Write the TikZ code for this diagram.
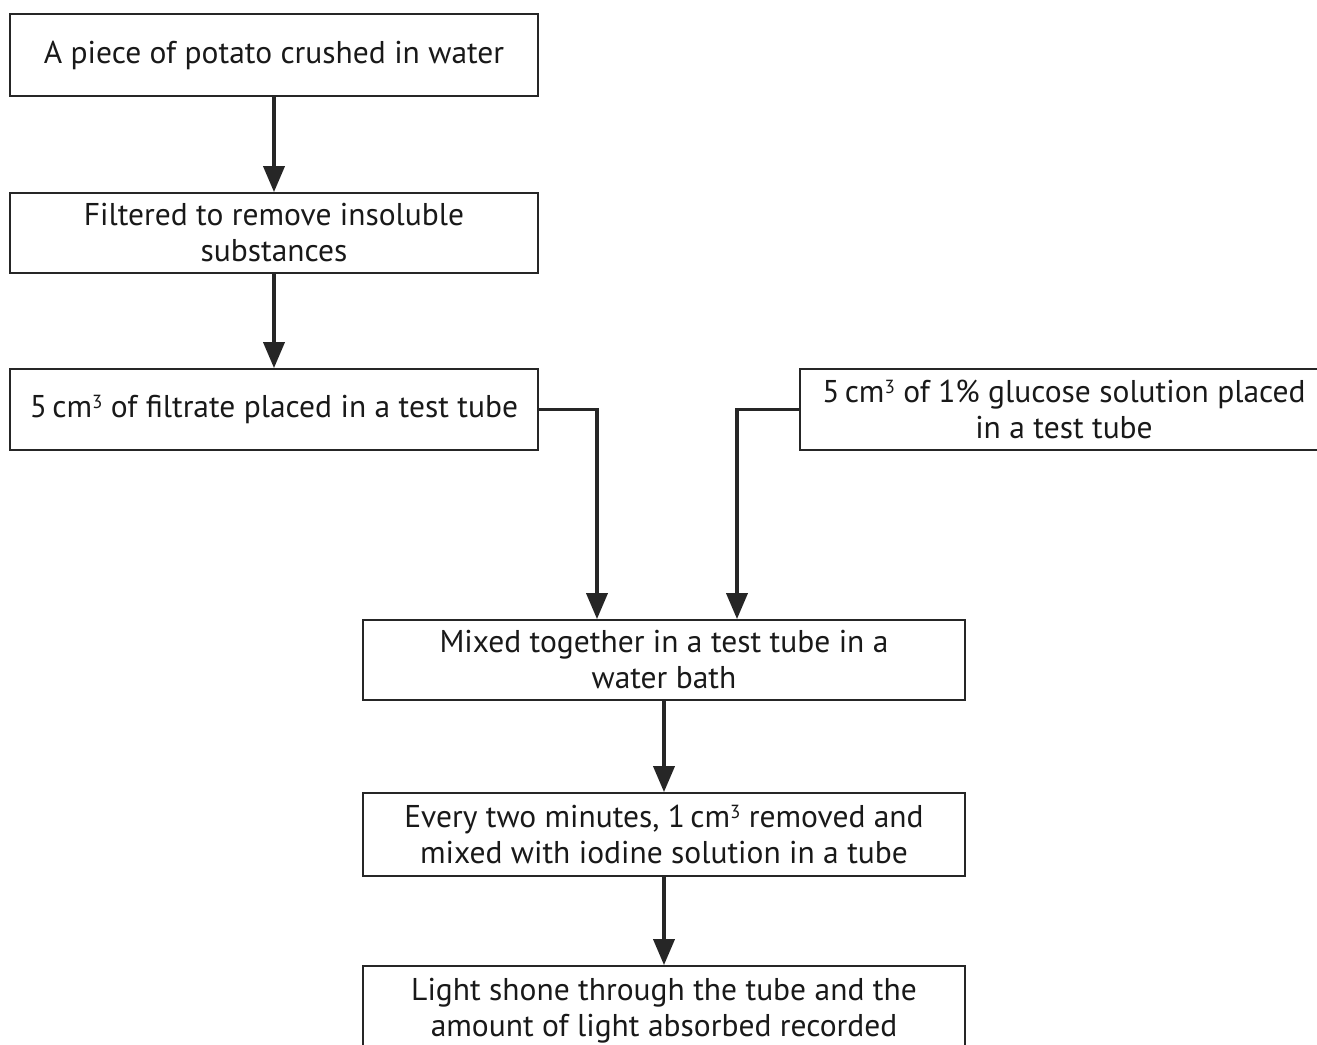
\documentclass[tikz,border=0pt]{standalone}
\usepackage{fontspec}
\setmainfont{PT Sans}
\usetikzlibrary{arrows.meta}
\newcommand{\cubed}{\raisebox{0.3em}{\fontsize{19}{19}\selectfont 3}}
\begin{document}
\begin{tikzpicture}[x=1pt,y=-1pt,
  box/.style={draw=black!85, line width=1.8pt, rectangle, inner sep=0pt, align=center,
    font=\fontsize{31.5}{36}\selectfont, text=black!90},
  conn/.style={line width=3.8pt, draw=black!85, -{Triangle[length=26pt,width=21pt]}}]
\useasboundingbox (0,0) rectangle (1317,1044);
\clip (0,0) rectangle (1317,1044);
\node[box, minimum width=528pt, minimum height=82pt] (b1) at (274,55) {A piece of potato crushed in water};
\node[box, minimum width=528pt, minimum height=80pt] (b2) at (274,233) {Filtered to remove insoluble\\substances};
\node[box, minimum width=528pt, minimum height=81pt] (b3) at (274,409.5) {5\,cm\cubed{} of filtrate placed in a test tube};
\node[box, minimum width=528pt, minimum height=81pt] (g) at (1064,409.5) {5\,cm\cubed{} of 1\% glucose solution placed\\in a test tube};
\node[box, minimum width=602pt, minimum height=80pt] (b4) at (664,660) {Mixed together in a test tube in a\\water bath};
\node[box, minimum width=602pt, minimum height=83pt] (b5) at (664,834.5) {Every two minutes, 1\,cm\cubed{} removed and\\mixed with iodine solution in a tube};
\node[box, minimum width=602pt, minimum height=90pt] (b6) at (664,1011) {Light shone through the tube and the\\amount of light absorbed recorded};
\coordinate (c1) at (597,409.5);
\coordinate (c2) at (737,409.5);
\draw[conn] (b1.south) -- (b2.north);
\draw[conn] (b2.south) -- (b3.north);
\draw[conn] (b3.east) -- (c1) -- (c1 |- b4.north);
\draw[conn] (g.west) -- (c2) -- (c2 |- b4.north);
\draw[conn] (b4.south) -- (b5.north);
\draw[conn] (b5.south) -- (b6.north);
\end{tikzpicture}
\end{document}
